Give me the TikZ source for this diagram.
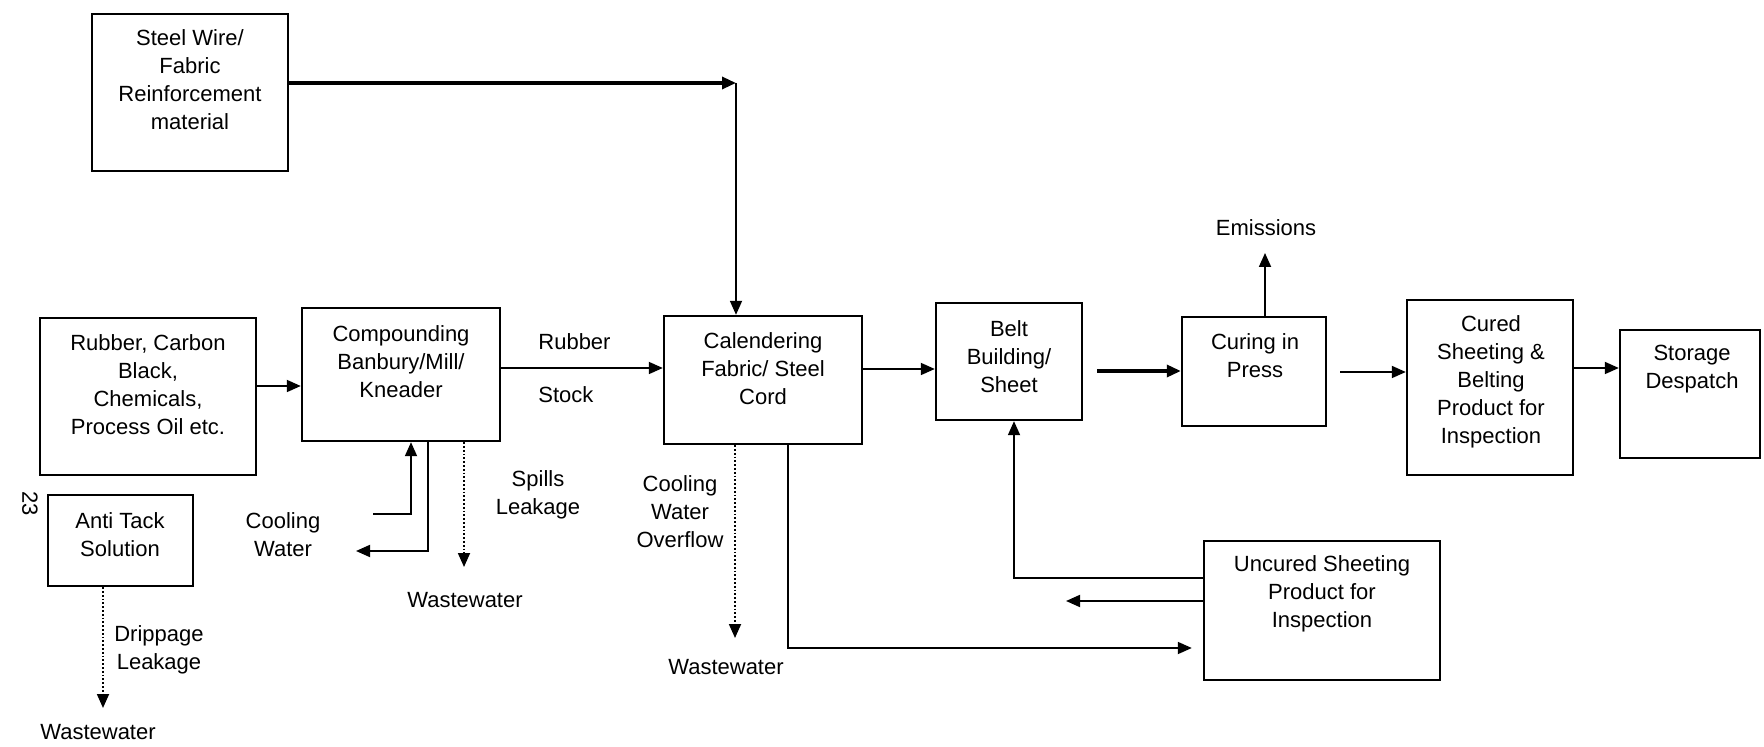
\documentclass[tikz,border=0pt]{standalone}
\usepackage{fontspec}
\setmainfont{Liberation Sans}
\usetikzlibrary{arrows.meta,calc}
\begin{document}
\begin{tikzpicture}[x=0.5pt,y=-0.5pt,
  box/.style={draw, line width=1.2pt, inner sep=0pt},
  txt/.style={align=center, font=\fontsize{11}{14}\selectfont, inner sep=0pt},
  arr/.style={line width=0.9pt, -{Triangle[length=7pt,width=6pt]}},
  thickarr/.style={line width=1.6pt, -{Triangle[length=7pt,width=6pt]}},
  darr/.style={line width=0.9pt, densely dotted, -{Triangle[length=7pt,width=6pt]}}]
\useasboundingbox (0,0) rectangle (1764,747);
% boxes
\node[box, minimum width=98pt, minimum height=78.5pt] (steel) at (190,92.5) {};
\node[box, minimum width=108pt, minimum height=78.5pt] (rubber) at (148,396.5) {};
\node[box, minimum width=99pt, minimum height=66.5pt] (comp) at (401,374.5) {};
\node[box, minimum width=99pt, minimum height=64pt] (cal) at (763,380) {};
\node[box, minimum width=73pt, minimum height=58.5pt] (belt) at (1009,361.5) {};
\node[box, minimum width=72pt, minimum height=54.5pt] (curing) at (1254,371.5) {};
\node[box, minimum width=83pt, minimum height=87.5pt] (cured) at (1490,387.5) {};
\node[box, minimum width=70pt, minimum height=64pt] (storage) at (1690,394) {};
\node[box, minimum width=118pt, minimum height=69.5pt] (uncured) at (1322,610.5) {};
\node[box, minimum width=72.5pt, minimum height=45.5pt] (anti) at (120.5,540.5) {};
% box texts
\node[txt] (steelT) at (190,80) {Steel Wire/\\Fabric\\Reinforcement\\material};
\node[txt] (rubberT) at (148,385) {Rubber, Carbon\\Black,\\Chemicals,\\Process Oil etc.};
\node[txt] (compT) at (401,362) {Compounding\\Banbury/Mill/\\Kneader};
\node[txt] (calT) at (763,369) {Calendering\\Fabric/ Steel\\Cord};
\node[txt] (beltT) at (1009,357) {Belt\\Building/\\Sheet};
\node[txt] (curingT) at (1255,356) {Curing in\\Press};
\node[txt] (curedT) at (1491,382) {Cured\\Sheeting \&\\Belting\\Product for\\Inspection};
\node[txt] (storageT) at (1692,369) {Storage\\Despatch};
\node[txt] (uncuredT) at (1322,594) {Uncured Sheeting\\Product for\\Inspection};
\node[txt] (antiT) at (120,535) {Anti Tack\\Solution};
% labels
\node[txt, anchor=west] (lRubber) at (538,342) {Rubber};
\node[txt, anchor=west] (lStock) at (538,395) {Stock};
\node[txt] (lCool) at (283,535) {Cooling\\Water};
\node[txt] (lSpills) at (538,495) {Spills\\Leakage};
\node[txt] (lWW1) at (465,600) {Wastewater};
\node[txt] (lOver) at (680,512) {Cooling\\Water\\Overflow};
\node[txt] (lWW2) at (726,667) {Wastewater};
\node[txt] (lDrip) at (159,650) {Drippage\\Leakage};
\node[txt] (lWW3) at (98,732) {Wastewater};
\node[txt] (lEmis) at (1266,228) {Emissions};
\node[txt, rotate=-90] (pg) at (30,504) {23};
% connectors
\coordinate (s1) at (736,83);
\draw[thickarr] (steel.east |- s1) -- (s1);
\draw[arr] (s1) -- (cal.north -| s1);
\coordinate (r1) at (0,386);
\draw[arr] (rubber.east |- r1) -- (comp.west |- r1);
\coordinate (r2) at (0,368);
\draw[arr] (comp.east |- r2) -- (cal.west |- r2);
\coordinate (r3) at (0,369);
\draw[arr] (cal.east |- r3) -- (belt.west |- r3);
\coordinate (b1) at (1097,371);
\draw[thickarr] (b1) -- (curing.west |- b1);
\coordinate (e1) at (1265,253);
\draw[arr] (curing.north -| e1) -- (e1);
\coordinate (c1) at (1340,372);
\draw[arr] (c1) -- (cured.west |- c1);
\coordinate (r4) at (0,368);
\draw[arr] (cured.east |- r4) -- (storage.west |- r4);
\coordinate (u1) at (1014,578);
\draw[arr] (uncured.west |- u1) -- (u1) -- (belt.south -| u1);
\coordinate (u2) at (1066,601);
\draw[arr] (uncured.west |- u2) -- (u2);
\coordinate (k1) at (788,648);
\draw[arr, shorten >=5.5pt] (cal.south -| k1) -- (k1) -- (uncured.west |- k1);
\coordinate (k2) at (735,638);
\draw[darr] (cal.south -| k2) -- (k2);
\coordinate (m1) at (373,514);
\coordinate (m2) at (411,514);
\draw[arr] (m1) -- (m2) -- (comp.south -| m2);
\coordinate (m3) at (428,551);
\coordinate (m4) at (356,551);
\draw[arr] (comp.south -| m3) -- (m3) -- (m4);
\coordinate (m5) at (464,567);
\draw[darr] (comp.south -| m5) -- (m5);
\coordinate (a1) at (103,708);
\draw[darr] (anti.south -| a1) -- (a1);
\end{tikzpicture}
\end{document}
